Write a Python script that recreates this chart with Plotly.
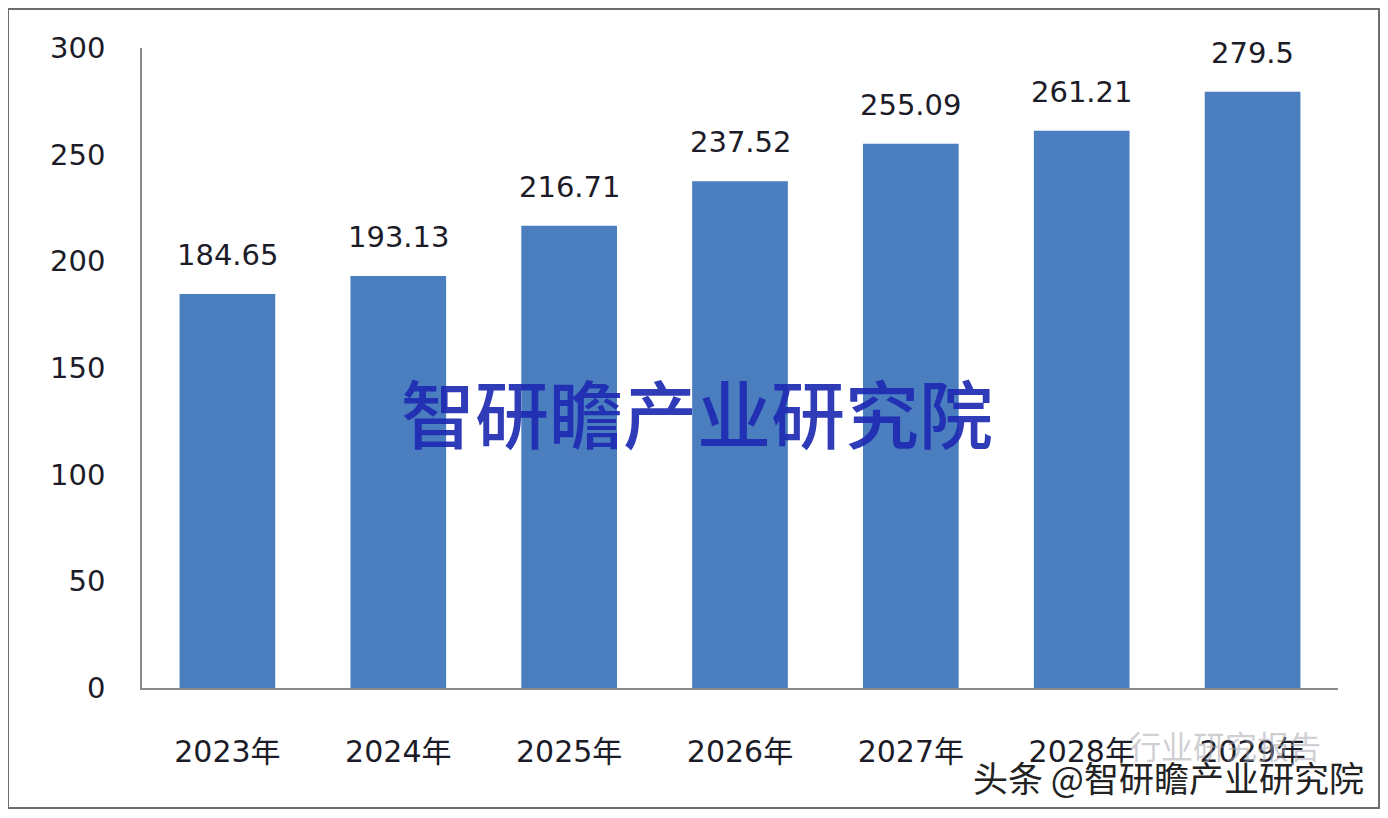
import plotly.graph_objects as go

categories = ["2023年", "2024年", "2025年", "2026年", "2027年", "2028年", "2029年"]
values = [184.65, 193.13, 216.71, 237.52, 255.09, 261.21, 279.5]
value_labels = ["184.65", "193.13", "216.71", "237.52", "255.09", "261.21", "279.5"]
y_ticks = [0, 50, 100, 150, 200, 250, 300]

FONT = "DejaVu Sans, Noto Sans CJK SC, sans-serif"
CJK = "Noto Sans CJK SC, sans-serif"
TEXT_COLOR = "#1c1c28"

# figure is placed at (8, 8) in the page (body margin)
L, T, PW, PH = 134, 40, 1196, 640
W, H = 1372, 802


def px(xp):
    return (xp - 8 - L) / PW


def py(yp):
    return (T + PH - (yp - 8)) / PH


fig = go.Figure()
fig.add_trace(go.Bar(
    x=categories, y=values,
    marker=dict(color="#4a7ebf", line=dict(width=0)),
    hoverinfo="skip",
))

annotations = []
for c, v, t in zip(categories, values, value_labels):
    annotations.append(dict(
        x=c, y=v, xref="x", yref="y", text=t, showarrow=False,
        yanchor="bottom", yshift=20,
        font=dict(family=FONT, size=29, color=TEXT_COLOR),
    ))

# center watermark
annotations.append(dict(
    x=px(697), y=py(410), xref="paper", yref="paper", text="智研瞻产业研究院",
    showarrow=False, xanchor="center", yanchor="middle",
    font=dict(family=CJK, size=74, color="rgba(30,42,178,0.92)", weight=500),
))
# faint background watermark bottom right
annotations.append(dict(
    x=px(1225), y=py(745), xref="paper", yref="paper",
    text="行业研究报告", showarrow=False, xanchor="center", yanchor="middle",
    font=dict(family=CJK, size=32, color="rgba(160,160,170,0.5)"),
))
# bottom-right source watermark
annotations.append(dict(
    x=px(1366), y=py(776), xref="paper", yref="paper",
    text="头条 @智研瞻产业研究院", showarrow=False, xanchor="right", yanchor="middle",
    font=dict(family=CJK, size=35, color="#222222",
              shadow="0 0 3px #ffffff, 0 0 3px #ffffff, 0 0 2px #ffffff"),
))

shapes = [
    dict(type="rect", xref="paper", yref="paper",
         x0=px(8), x1=px(1379), y0=py(808), y1=py(9),
         line=dict(color="#6e6e6e", width=2), fillcolor="rgba(0,0,0,0)", layer="below"),
]

fig.update_layout(
    width=W, height=H,
    margin=dict(l=L, r=W - L - PW, t=T, b=H - T - PH),
    paper_bgcolor="white", plot_bgcolor="white",
    bargap=0.44,
    showlegend=False,
    annotations=annotations,
    shapes=shapes,
    font=dict(family=FONT, size=29, color=TEXT_COLOR),
    xaxis=dict(
        showline=True, linecolor="#8a8a8a", linewidth=1.5,
        showgrid=False, ticks="", zeroline=False,
        tickfont=dict(family=FONT, size=30, color=TEXT_COLOR),
        ticklabelstandoff=36,
    ),
    yaxis=dict(
        range=[0, 300], tickvals=y_ticks, ticktext=[str(t) for t in y_ticks],
        showline=True, linecolor="#8a8a8a", linewidth=1.5,
        showgrid=False, ticks="", zeroline=False,
        tickfont=dict(family=FONT, size=29, color=TEXT_COLOR),
        ticklabelstandoff=29,
    ),
)

fig.write_html("out.html")
